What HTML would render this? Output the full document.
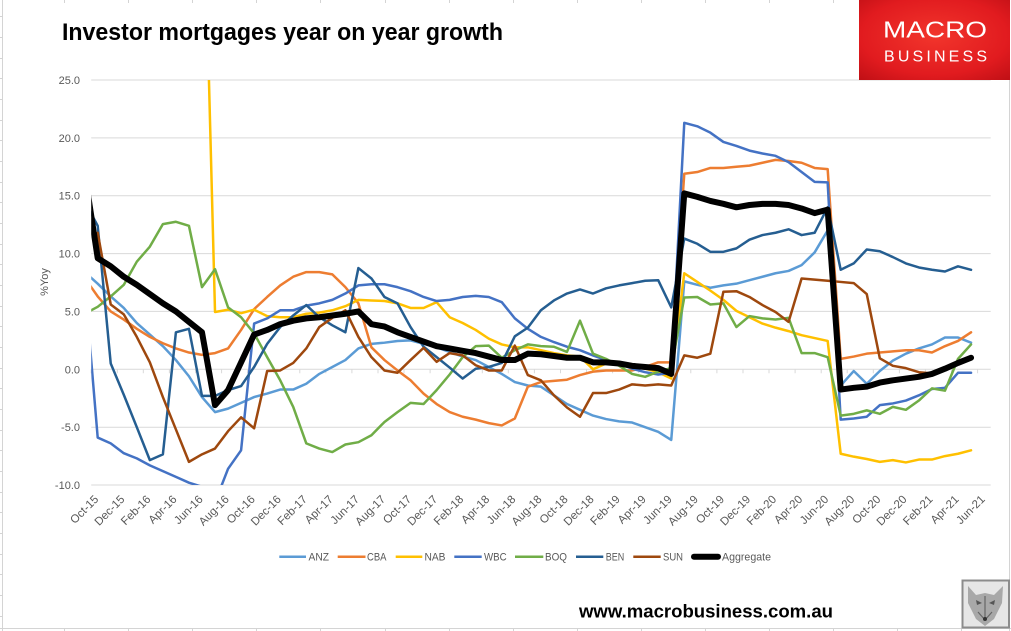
<!DOCTYPE html>
<html><head><meta charset="utf-8">
<style>
html,body{margin:0;padding:0;background:#fff;}
svg{display:block;}
text{font-family:"Liberation Sans",Arial,sans-serif;}
.ax{fill:#595959;font-size:11px;}
.xl{fill:#595959;font-size:11.5px;}
</style></head><body>
<svg width="1011" height="631" viewBox="0 0 1011 631" xmlns="http://www.w3.org/2000/svg">
<defs>
<clipPath id="pc"><rect x="91.2" y="80" width="899.8" height="405"/></clipPath>
<radialGradient id="rg" cx="0.5" cy="0.45" r="0.75"><stop offset="0" stop-color="#F2352C"/><stop offset="0.65" stop-color="#E11B1F"/><stop offset="1" stop-color="#BE0F15"/></radialGradient>
</defs>
<rect width="1011" height="631" fill="#fff"/>
<!-- excel cell gridlines -->
<g stroke="#D4D4D4" stroke-width="1">
<line x1="2.5" y1="0" x2="2.5" y2="631"/>
<line x1="0" y1="628.5" x2="1011" y2="628.5"/>
<line x1="1009.5" y1="0" x2="1009.5" y2="631"/>
<path d="M64.5 0v3M128.5 0v3M192.5 0v3M256.5 0v3M320.5 0v3M385.5 0v3M449.5 0v3M513.5 0v3M577.5 0v3M641.5 0v3M705.5 0v3M769.5 0v3M833.5 0v3M64.5 628v3M128.5 628v3M192.5 628v3M256.5 628v3M320.5 628v3M385.5 628v3M449.5 628v3M513.5 628v3M577.5 628v3M641.5 628v3M705.5 628v3M769.5 628v3M833.5 628v3M897.5 628v3M961.5 628v3M0 16.5h3M0 37.5h3M0 58.5h3M0 78.5h3M0 99.5h3M0 120.5h3M0 140.5h3M0 161.5h3M0 182.5h3M0 202.5h3M0 223.5h3M0 244.5h3M0 264.5h3M0 285.5h3M0 306.5h3M0 326.5h3M0 347.5h3M0 368.5h3M0 388.5h3M0 409.5h3M0 430.5h3M0 450.5h3M0 471.5h3M0 492.5h3M0 512.5h3M0 533.5h3M0 554.5h3M0 574.5h3M0 595.5h3M0 616.5h3"/>
</g>
<!-- title -->
<text x="62" y="40" font-size="24.5" font-weight="bold" fill="#000" textLength="441" lengthAdjust="spacingAndGlyphs">Investor mortgages year on year growth</text>
<!-- gridlines -->
<g stroke="#D9D9D9" stroke-width="1">
<line x1="91.2" y1="80" x2="990.7" y2="80"/>
<line x1="91.2" y1="137.9" x2="990.7" y2="137.9"/>
<line x1="91.2" y1="195.7" x2="990.7" y2="195.7"/>
<line x1="91.2" y1="253.6" x2="990.7" y2="253.6"/>
<line x1="91.2" y1="311.4" x2="990.7" y2="311.4"/>
<line x1="91.2" y1="369.3" x2="990.7" y2="369.3"/>
<line x1="91.2" y1="427.2" x2="990.7" y2="427.2"/>
<line x1="91.2" y1="485" x2="990.7" y2="485"/>
<path d="M91.2 369.3v4M117.3 369.3v4M143.3 369.3v4M169.4 369.3v4M195.5 369.3v4M221.6 369.3v4M247.6 369.3v4M273.7 369.3v4M299.8 369.3v4M325.8 369.3v4M351.9 369.3v4M378 369.3v4M404 369.3v4M430.1 369.3v4M456.2 369.3v4M482.3 369.3v4M508.3 369.3v4M534.4 369.3v4M560.5 369.3v4M586.5 369.3v4M612.6 369.3v4M638.7 369.3v4M664.7 369.3v4M690.8 369.3v4M716.9 369.3v4M743 369.3v4M769 369.3v4M795.1 369.3v4M821.2 369.3v4M847.2 369.3v4M873.3 369.3v4M899.4 369.3v4M925.4 369.3v4M951.5 369.3v4M977.6 369.3v4"/>
</g>
<!-- y labels -->
<g class="ax" text-anchor="end">
<text x="80" y="84">25.0</text>
<text x="80" y="141.9">20.0</text>
<text x="80" y="199.7">15.0</text>
<text x="80" y="257.6">10.0</text>
<text x="80" y="315.4">5.0</text>
<text x="80" y="373.3">0.0</text>
<text x="80" y="431.2">-5.0</text>
<text x="80" y="489">-10.0</text>
</g>
<text class="ax" transform="translate(48,282) rotate(-90)" text-anchor="middle">%Yoy</text>
<!-- series -->
<g clip-path="url(#pc)">
<g transform="translate(97.7 369.3) scale(13.035 -11.571)" fill="none" stroke-linejoin="round" stroke-linecap="round">
<polyline vector-effect="non-scaling-stroke" stroke="#5B9BD5" stroke-width="2.5" points="-1,8.4 0,7.4 1,6.3 2,5.3 3,4.0 4,3.0 5,2.0 6,0.8 7,-0.6 8,-2.4 9,-3.7 10,-3.4 11,-2.9 12,-2.4 13,-2.1 14,-1.75 15,-1.75 16,-1.25 17,-0.4 18,0.2 19,0.8 20,1.8 21,2.2 22,2.3 23,2.45 24,2.5 25,2.2 26,1.9 27,1.5 28,1.1 29,0.8 30,0.2 31,-0.4 32,-1.1 33,-1.4 34,-1.5 35,-2.25 36,-3.0 37,-3.5 38,-4.0 39,-4.3 40,-4.5 41,-4.6 42,-5.0 43,-5.4 44,-6.1 45,7.6 46,7.3 47,7.05 48,7.25 49,7.4 50,7.7 51,8.0 52,8.3 53,8.5 54,9.0 55,10.1 56,12.0 57,-1.4 58,-0.15 59,-1.25 60,-0.15 61,0.75 62,1.35 63,1.8 64,2.15 65,2.75 66,2.75 67,2.3"/>
<polyline vector-effect="non-scaling-stroke" stroke="#ED7D31" stroke-width="2.5" points="-1,7.9 0,6.3 1,5.0 2,4.3 3,3.5 4,2.8 5,2.25 6,1.8 7,1.45 8,1.25 9,1.4 10,1.8 11,3.4 12,5.2 13,6.25 14,7.25 15,8.0 16,8.4 17,8.4 18,8.2 19,7.1 20,5.7 21,1.9 22,0.8 23,-0.1 24,-0.95 25,-2.1 26,-3.0 27,-3.7 28,-4.1 29,-4.35 30,-4.65 31,-4.85 32,-4.25 33,-1.5 34,-1.1 35,-1.0 36,-0.9 37,-0.5 38,-0.2 39,-0.1 40,-0.1 41,-0.1 42,0.2 43,0.6 44,0.6 45,16.9 46,17.05 47,17.4 48,17.4 49,17.5 50,17.6 51,17.85 52,18.1 53,18.0 54,17.85 55,17.4 56,17.3 57,0.9 58,1.1 59,1.35 60,1.45 61,1.55 62,1.65 63,1.65 64,1.45 65,2.0 66,2.45 67,3.2"/>
<polyline vector-effect="non-scaling-stroke" stroke="#FFC000" stroke-width="2.5" points="8,48 9,4.95 10,5.15 11,4.85 12,5.15 13,4.6 14,4.5 15,4.5 16,4.8 17,4.9 18,5.1 19,5.45 20,6.0 21,5.95 22,5.9 23,5.7 24,5.3 25,5.3 26,5.8 27,4.5 28,4.0 29,3.4 30,2.65 31,2.15 32,1.9 33,1.9 34,1.65 35,1.4 36,1.2 37,1.1 38,0.0 39,0.5 40,0.5 41,0.35 42,0.05 43,-0.25 44,-0.8 45,8.3 46,7.55 47,6.8 48,6.0 49,5.05 50,4.5 51,3.95 52,3.6 53,3.3 54,2.95 55,2.7 56,2.45 57,-7.3 58,-7.55 59,-7.75 60,-8.0 61,-7.85 62,-8.05 63,-7.8 64,-7.8 65,-7.5 66,-7.3 67,-7.0"/>
<polyline vector-effect="non-scaling-stroke" stroke="#4472C4" stroke-width="2.5" points="-1,7.5 0,-5.9 1,-6.4 2,-7.25 3,-7.7 4,-8.3 5,-8.8 6,-9.3 7,-9.8 8,-10.15 9,-11.5 10,-8.6 11,-7.0 12,3.95 13,4.4 14,5.1 15,5.1 16,5.5 17,5.7 18,6.0 19,6.55 20,7.25 21,7.35 22,7.35 23,7.1 24,6.75 25,6.25 26,5.9 27,6.0 28,6.25 29,6.35 30,6.25 31,5.8 32,4.4 33,3.5 34,2.8 35,2.35 36,1.95 37,1.65 38,1.2 39,0.8 40,0.5 41,0.05 42,-0.25 43,-0.45 44,-0.3 45,21.3 46,21.0 47,20.45 48,19.65 49,19.3 50,18.9 51,18.65 52,18.45 53,17.9 54,17.05 55,16.2 56,16.15 57,-4.35 58,-4.25 59,-4.1 60,-3.1 61,-2.95 62,-2.7 63,-2.25 64,-1.7 65,-1.6 66,-0.3 67,-0.3"/>
<polyline vector-effect="non-scaling-stroke" stroke="#70AD47" stroke-width="2.5" points="-1,4.8 0,5.4 1,6.3 2,7.3 3,9.3 4,10.6 5,12.55 6,12.75 7,12.4 8,7.1 9,8.65 10,5.35 11,4.5 12,3.1 13,1.05 14,-0.95 15,-3.25 16,-6.4 17,-6.85 18,-7.15 19,-6.5 20,-6.3 21,-5.7 22,-4.55 23,-3.7 24,-2.9 25,-3.0 26,-1.8 27,-0.45 28,1.05 29,2.0 30,2.05 31,1.0 32,1.65 33,2.15 34,2.0 35,1.95 36,1.5 37,4.2 38,1.35 39,0.9 40,0.3 41,-0.4 42,-0.65 43,-0.2 44,0.1 45,6.2 46,6.25 47,5.6 48,5.7 49,3.65 50,4.6 51,4.4 52,4.3 53,4.45 54,1.4 55,1.4 56,1.05 57,-4.0 58,-3.85 59,-3.55 60,-3.85 61,-3.25 62,-3.5 63,-2.7 64,-1.65 65,-1.85 66,0.9 67,2.15"/>
<polyline vector-effect="non-scaling-stroke" stroke="#255E91" stroke-width="2.5" points="-1,14.5 0,12.4 1,0.5 2,-2.2 3,-5.0 4,-7.85 5,-7.35 6,3.2 7,3.5 8,-2.3 9,-2.3 10,-1.8 11,-1.45 12,0.2 13,2.2 14,3.65 15,4.65 16,5.55 17,4.5 18,3.8 19,3.2 20,8.75 21,7.85 22,6.25 23,5.7 24,3.65 25,1.95 26,1.05 27,0.15 28,-0.8 29,0.05 30,0.2 31,0.55 32,2.85 33,3.6 34,5.1 35,5.95 36,6.55 37,6.9 38,6.55 39,7.0 40,7.25 41,7.45 42,7.65 43,7.7 44,5.35 45,11.3 46,10.85 47,10.15 48,10.15 49,10.45 50,11.2 51,11.6 52,11.8 53,12.1 54,11.6 55,11.8 56,14.0 57,8.6 58,9.15 59,10.35 60,10.2 61,9.7 62,9.15 63,8.8 64,8.6 65,8.45 66,8.9 67,8.6"/>
<polyline vector-effect="non-scaling-stroke" stroke="#9E480E" stroke-width="2.5" points="0,11.8 1,5.6 2,4.75 3,2.8 4,0.6 5,-2.4 6,-5.2 7,-8.0 8,-7.35 9,-6.85 10,-5.35 11,-4.15 12,-5.1 13,-0.15 14,-0.1 15,0.55 16,1.8 17,3.65 18,4.45 19,5.1 20,2.8 21,1.05 22,-0.1 23,-0.3 24,0.8 25,1.85 26,0.65 27,1.4 28,1.2 29,0.35 30,-0.1 31,-0.1 32,2.05 33,-0.5 34,-0.95 35,-2.25 36,-3.3 37,-4.1 38,-2.05 39,-2.05 40,-1.75 41,-1.3 42,-1.4 43,-1.3 44,-1.4 45,1.2 46,1.0 47,1.35 48,6.7 49,6.75 50,6.25 51,5.55 52,4.95 53,4.1 54,7.85 55,7.75 56,7.65 57,7.55 58,7.45 59,6.5 60,0.95 61,0.3 62,0.1 63,-0.25 64,-0.35"/>
<polyline vector-effect="non-scaling-stroke" stroke="#000000" stroke-width="6" points="-1,17 0,9.6 1,8.9 2,8.0 3,7.3 4,6.5 5,5.7 6,5.0 7,4.1 8,3.2 9,-3.1 10,-1.8 11,0.6 12,3.0 13,3.4 14,3.9 15,4.2 16,4.4 17,4.5 18,4.65 19,4.8 20,5.0 21,3.9 22,3.7 23,3.2 24,2.8 25,2.4 26,2.0 27,1.8 28,1.6 29,1.4 30,1.1 31,0.8 32,0.8 33,1.35 34,1.3 35,1.15 36,1.0 37,1.0 38,0.6 39,0.6 40,0.5 41,0.3 42,0.2 43,0.1 44,-0.4 45,15.2 46,14.9 47,14.55 48,14.3 49,14.0 50,14.2 51,14.3 52,14.3 53,14.2 54,13.9 55,13.5 56,13.8 57,-1.75 58,-1.6 59,-1.5 60,-1.15 61,-0.95 62,-0.8 63,-0.65 64,-0.4 65,0.05 66,0.55 67,1.0"/>
</g>
</g>
<!-- x labels -->
<g class="xl" text-anchor="end">
<text transform="translate(99.2,500) rotate(-45)">Oct-15</text>
<text transform="translate(125.3,500) rotate(-45)">Dec-15</text>
<text transform="translate(151.3,500) rotate(-45)">Feb-16</text>
<text transform="translate(177.4,500) rotate(-45)">Apr-16</text>
<text transform="translate(203.5,500) rotate(-45)">Jun-16</text>
<text transform="translate(229.6,500) rotate(-45)">Aug-16</text>
<text transform="translate(255.6,500) rotate(-45)">Oct-16</text>
<text transform="translate(281.7,500) rotate(-45)">Dec-16</text>
<text transform="translate(307.8,500) rotate(-45)">Feb-17</text>
<text transform="translate(333.8,500) rotate(-45)">Apr-17</text>
<text transform="translate(359.9,500) rotate(-45)">Jun-17</text>
<text transform="translate(386.0,500) rotate(-45)">Aug-17</text>
<text transform="translate(412.0,500) rotate(-45)">Oct-17</text>
<text transform="translate(438.1,500) rotate(-45)">Dec-17</text>
<text transform="translate(464.2,500) rotate(-45)">Feb-18</text>
<text transform="translate(490.2,500) rotate(-45)">Apr-18</text>
<text transform="translate(516.3,500) rotate(-45)">Jun-18</text>
<text transform="translate(542.4,500) rotate(-45)">Aug-18</text>
<text transform="translate(568.5,500) rotate(-45)">Oct-18</text>
<text transform="translate(594.5,500) rotate(-45)">Dec-18</text>
<text transform="translate(620.6,500) rotate(-45)">Feb-19</text>
<text transform="translate(646.7,500) rotate(-45)">Apr-19</text>
<text transform="translate(672.7,500) rotate(-45)">Jun-19</text>
<text transform="translate(698.8,500) rotate(-45)">Aug-19</text>
<text transform="translate(724.9,500) rotate(-45)">Oct-19</text>
<text transform="translate(751.0,500) rotate(-45)">Dec-19</text>
<text transform="translate(777.0,500) rotate(-45)">Feb-20</text>
<text transform="translate(803.1,500) rotate(-45)">Apr-20</text>
<text transform="translate(829.2,500) rotate(-45)">Jun-20</text>
<text transform="translate(855.2,500) rotate(-45)">Aug-20</text>
<text transform="translate(881.3,500) rotate(-45)">Oct-20</text>
<text transform="translate(907.4,500) rotate(-45)">Dec-20</text>
<text transform="translate(933.4,500) rotate(-45)">Feb-21</text>
<text transform="translate(959.5,500) rotate(-45)">Apr-21</text>
<text transform="translate(985.6,500) rotate(-45)">Jun-21</text>
</g>
<!-- legend -->
<g stroke-linecap="butt">
<line x1="279.3" y1="556.7" x2="306" y2="556.7" stroke="#5B9BD5" stroke-width="2.5"/>
<line x1="337.7" y1="556.7" x2="365.5" y2="556.7" stroke="#ED7D31" stroke-width="2.5"/>
<line x1="395.7" y1="556.7" x2="422.3" y2="556.7" stroke="#FFC000" stroke-width="2.5"/>
<line x1="454.3" y1="556.7" x2="481.7" y2="556.7" stroke="#4472C4" stroke-width="2.5"/>
<line x1="515" y1="556.7" x2="543.3" y2="556.7" stroke="#70AD47" stroke-width="2.5"/>
<line x1="576" y1="556.7" x2="603.3" y2="556.7" stroke="#255E91" stroke-width="2.5"/>
<line x1="633.3" y1="556.7" x2="660.7" y2="556.7" stroke="#9E480E" stroke-width="2.5"/>
<line x1="694" y1="556.7" x2="718" y2="556.7" stroke="#000" stroke-width="6" stroke-linecap="round"/>
</g>
<g class="ax">
<text x="308.5" y="560.6" textLength="20.5" lengthAdjust="spacingAndGlyphs">ANZ</text>
<text x="367" y="560.6" textLength="19.5" lengthAdjust="spacingAndGlyphs">CBA</text>
<text x="424.5" y="560.6" textLength="21" lengthAdjust="spacingAndGlyphs">NAB</text>
<text x="484" y="560.6" textLength="22.7" lengthAdjust="spacingAndGlyphs">WBC</text>
<text x="545" y="560.6" textLength="22" lengthAdjust="spacingAndGlyphs">BOQ</text>
<text x="605.7" y="560.6" textLength="18.5" lengthAdjust="spacingAndGlyphs">BEN</text>
<text x="663" y="560.6" textLength="20" lengthAdjust="spacingAndGlyphs">SUN</text>
<text x="722" y="560.6" textLength="49" lengthAdjust="spacingAndGlyphs">Aggregate</text>
</g>
<!-- website -->
<text x="579" y="617.3" font-size="18.5" font-weight="bold" fill="#000" textLength="254" lengthAdjust="spacingAndGlyphs">www.macrobusiness.com.au</text>
<!-- logo -->
<rect x="859" y="0" width="151" height="80" fill="url(#rg)"/>
<text x="883" y="37.3" font-size="23.5" fill="#fff" textLength="104" lengthAdjust="spacingAndGlyphs">MACRO</text>
<text x="884" y="61.7" font-size="16" fill="#fff" textLength="103" lengthAdjust="spacing">BUSINESS</text>
<!-- wolf -->
<rect x="962.5" y="580.5" width="46.5" height="47" fill="#e6e6e6" stroke="#8c8c8c" stroke-width="2"/>
<polygon points="968,586 976,595 985,593 994,595 1003,586 1002,603 994,619 985,626 976,619 968,603" fill="#a8a8a8"/>
<polygon points="976,600 982,603 977,605" fill="#555"/>
<polygon points="995,600 989,603 994,605" fill="#555"/>
<path d="M985 596 L985 620 M978 612 L985 620 L992 612" stroke="#666" stroke-width="1.2" fill="none"/>
<circle cx="985" cy="619" r="2" fill="#333"/>
</svg>
</body></html>
